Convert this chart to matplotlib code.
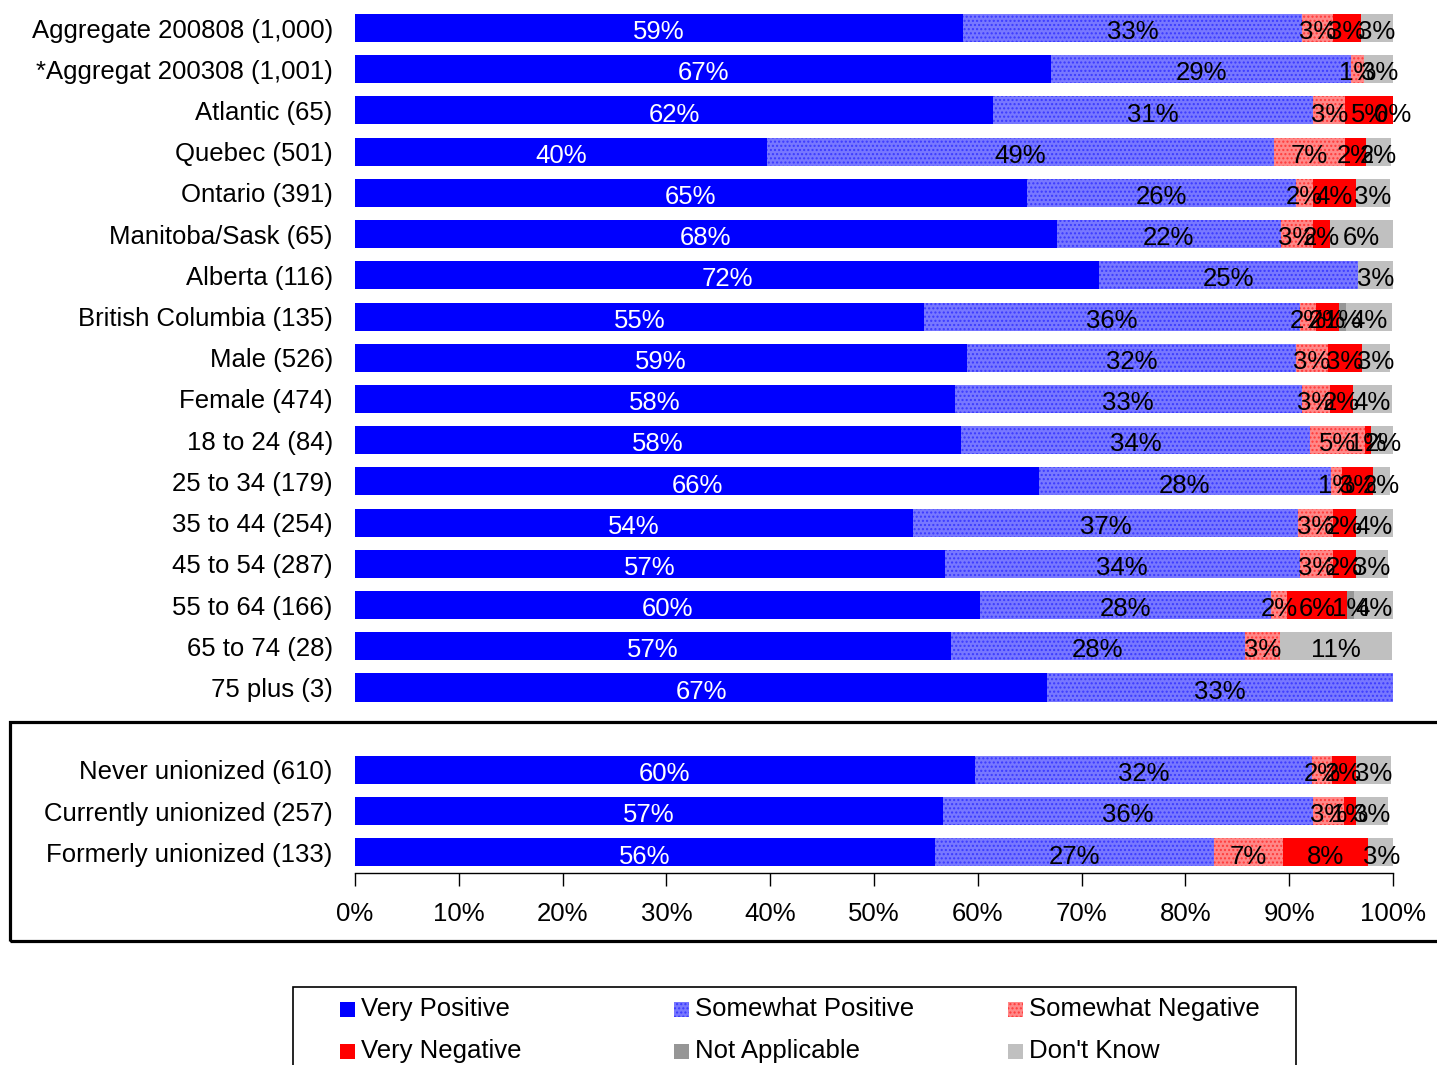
import numpy as np
import matplotlib
matplotlib.use("Agg")
import matplotlib.pyplot as plt
from matplotlib.patches import Rectangle

plt.rcParams['font.family'] = ['Liberation Sans', 'DejaVu Sans']

categories = ["Aggregate 200808 (1,000)", "*Aggregat 200308 (1,001)", "Atlantic (65)",
              "Quebec (501)", "Ontario (391)", "Manitoba/Sask (65)", "Alberta (116)",
              "British Columbia (135)", "Male (526)", "Female (474)", "18 to 24 (84)",
              "25 to 34 (179)", "35 to 44 (254)", "45 to 54 (287)", "55 to 64 (166)",
              "65 to 74 (28)", "75 plus (3)",
              "Never unionized (610)", "Currently unionized (257)", "Formerly unionized (133)"]

nan = np.nan
very_pos = [58.6, 67.1, 61.5, 39.7, 64.7, 67.6, 71.7, 54.8, 59.0, 57.8, 58.4, 65.9, 53.8, 56.8,
            60.2, 57.4, 66.7, 59.7, 56.6, 55.9]
somewhat_pos = [32.6, 28.9, 30.8, 48.8, 26.0, 21.6, 24.9, 36.2, 31.7, 33.4, 33.6, 28.1, 37.0, 34.2,
                28.0, 28.3, 33.3, 32.5, 35.7, 26.9]
somewhat_neg = [3.0, 1.2, 3.1, 6.9, 1.6, 3.1, nan, 1.6, 3.0, 2.7, 5.3, 1.1, 3.4, 3.2,
                1.6, 3.4, nan, 1.9, 3.0, 6.6]
very_neg = [2.7, nan, 4.6, 2.0, 4.1, 1.6, nan, 2.2, 3.3, 2.2, 0.6, 3.0, 2.2, 2.2,
            5.8, nan, nan, 2.3, 1.1, 8.2]
not_appl = [nan, nan, nan, nan, nan, nan, nan, 0.7, nan, nan, nan, nan, nan, nan,
            0.6, nan, nan, nan, nan, nan]
dont_know = [3.1, 3.0, 0.0, 2.4, 3.3, 6.1, 3.4, 4.4, 2.7, 3.8, 2.4, 1.6, 3.6, 3.1,
             3.9, 10.8, nan, 3.4, 3.1, 2.6]

series = [("Very Positive", very_pos), ("Somewhat Positive", somewhat_pos),
          ("Somewhat Negative", somewhat_neg), ("Very Negative", very_neg),
          ("Not Applicable", not_appl), ("Don't Know", dont_know)]

styles = {
    "Very Positive": dict(facecolor="#0000ff"),
    "Somewhat Positive": dict(facecolor="#7878ff", hatch="....", edgecolor="#3a3aff"),
    "Somewhat Negative": dict(facecolor="#ff8888", hatch="....", edgecolor="#ff3a3a"),
    "Very Negative": dict(facecolor="#ff0000"),
    "Not Applicable": dict(facecolor="#969696"),
    "Don't Know": dict(facecolor="#c0c0c0"),
}

# slot 17 stays empty between age and union groups
ypos = list(range(17)) + [18, 19, 20]

W, H = 1437, 1065
fig = plt.figure(figsize=(W / 100, H / 100), dpi=100)
ax = fig.add_axes([355 / W, 1 - 873 / H, 1038 / W, 865.6 / H])

fs = 18.5
left = np.zeros(len(categories))
for name, vals in series:
    vals = np.array(vals, dtype=float)
    w = np.nan_to_num(vals)
    ax.barh(ypos, w, left=left, height=0.68, linewidth=0, **styles[name])
    for i, v in enumerate(vals):
        if np.isnan(v):
            continue
        ax.text(left[i] + w[i] / 2, ypos[i] + 0.1, f"{v:.0f}%", ha="center", va="center",
                fontsize=fs, color="white" if name == "Very Positive" else "black")
    left += w

ax.set_xlim(0, 100)
ax.set_ylim(20.5, -0.5)
ax.set_xticks(np.arange(0, 101, 10))
ax.set_xticklabels([f"{t}%" for t in range(0, 101, 10)], fontsize=fs)
ax.set_yticks(ypos)
ax.set_yticklabels(categories, fontsize=fs)
ax.tick_params(axis="y", length=0, pad=16)
ax.tick_params(axis="x", length=9, width=1, direction="out", pad=12)
for s in ["top", "right", "left"]:
    ax.spines[s].set_visible(False)
ax.spines["bottom"].set_linewidth(1)

# box around the union group
fig.patches.append(Rectangle((10 / W, 1 - 941 / H), 1.1, 219 / H, transform=fig.transFigure,
                             fill=False, edgecolor="black", linewidth=2.3))

# legend, drawn by hand: 3 columns x 2 rows
fig.patches.append(Rectangle((293 / W, 1 - 1090 / H), 1003 / W, 103 / H, transform=fig.transFigure,
                             fill=False, edgecolor="black", linewidth=1.2))
legend_rows = [["Very Positive", "Somewhat Positive", "Somewhat Negative"],
               ["Very Negative", "Not Applicable", "Don't Know"]]
col_x = [340, 674, 1008]
row_y = [1009, 1051]
for r, names in enumerate(legend_rows):
    for c, n in enumerate(names):
        fig.patches.append(Rectangle((col_x[c] / W, 1 - (row_y[r] + 8) / H), 15 / W, 15 / H,
                                     transform=fig.transFigure, linewidth=0, **styles[n]))
        fig.text((col_x[c] + 21) / W, 1 - row_y[r] / H, n, fontsize=fs, ha="left", va="center")

fig.savefig("out.png", dpi=100)
